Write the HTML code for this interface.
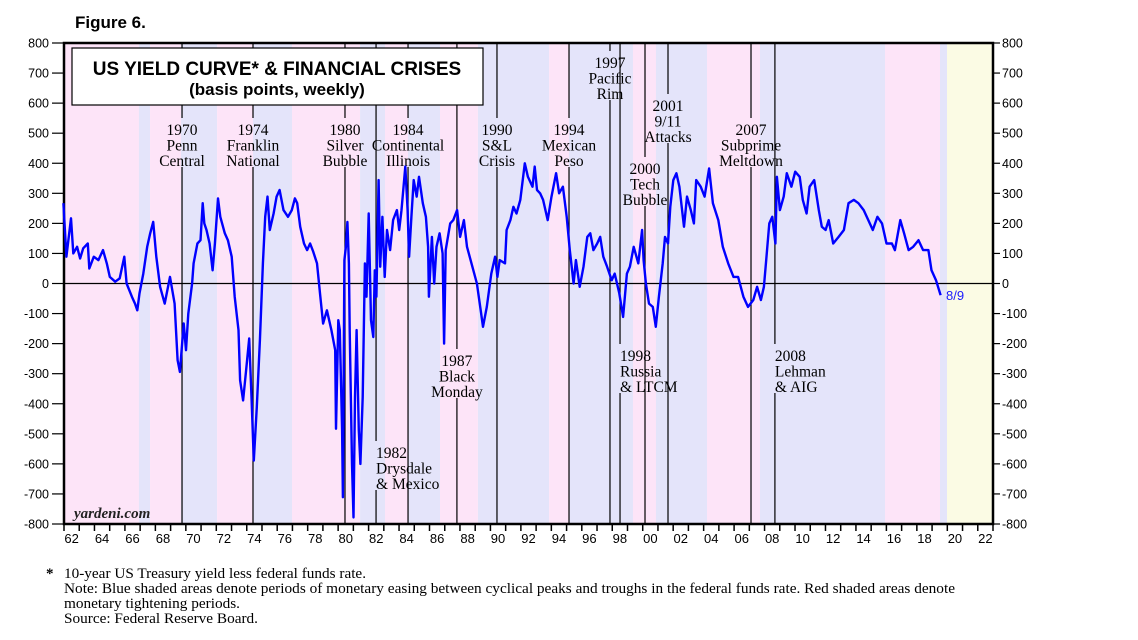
<!DOCTYPE html>
<html><head><meta charset="utf-8"><style>
html,body{margin:0;padding:0;background:#fff;}
body{width:1138px;height:640px;overflow:hidden;position:relative;font-family:"Liberation Sans",sans-serif;}
svg{position:absolute;left:0;top:0;}
.ser{font-family:"Liberation Serif",serif;}
</style></head><body>
<svg id="chart" width="1138" height="640" viewBox="0 0 1138 640" xmlns="http://www.w3.org/2000/svg">
<text x="75" y="28" font-size="17" font-weight="bold">Figure 6.</text>
<g id="bands"></g>
<g id="events"></g>
<g id="axes"></g>
<g id="series"></g>
<g>
<rect x="72" y="48" width="411" height="57" fill="#fff" stroke="#000" stroke-width="1.2"/>
<text x="277" y="75" font-size="19" font-weight="bold" text-anchor="middle">US YIELD CURVE* &amp; FINANCIAL CRISES</text>
<text x="277" y="95" font-size="17" font-weight="bold" text-anchor="middle">(basis points, weekly)</text>
</g>
<text class="ser" x="74" y="518" font-size="15" font-style="italic" font-weight="bold" fill="#222">yardeni.com</text>
<text x="946" y="300" font-size="13" fill="#1a1aff">8/9</text>
<g class="ser" font-size="15">
<text x="46" y="578" font-weight="bold">*</text>
<text x="64" y="578" textLength="302" lengthAdjust="spacingAndGlyphs">10-year US Treasury yield less federal funds rate.</text>
<text x="64" y="593" textLength="891" lengthAdjust="spacingAndGlyphs">Note: Blue shaded areas denote periods of monetary easing between cyclical peaks and troughs in the federal funds rate. Red shaded areas denote</text>
<text x="64" y="608" textLength="176" lengthAdjust="spacingAndGlyphs">monetary tightening periods.</text>
<text x="64" y="623" textLength="194" lengthAdjust="spacingAndGlyphs">Source: Federal Reserve Board.</text>
</g>
</svg>
<script>
const years=[1961.5,1961.7,1962.0,1962.15,1962.4,1962.6,1962.8,1963.1,1963.2,1963.5,1963.8,1964.1,1964.35,1964.55,1964.9,1965.2,1965.5,1965.65,1966.0,1966.2,1966.35,1966.5,1966.75,1967.0,1967.2,1967.4,1967.6,1967.85,1968.15,1968.5,1968.8,1969.0,1969.15,1969.4,1969.55,1969.7,1969.95,1970.05,1970.3,1970.5,1970.65,1970.75,1970.9,1971.1,1971.3,1971.45,1971.65,1971.8,1972.1,1972.3,1972.55,1972.75,1973.0,1973.1,1973.3,1973.5,1973.7,1973.85,1974.0,1974.2,1974.4,1974.6,1974.75,1974.9,1975.05,1975.3,1975.5,1975.7,1975.95,1976.25,1976.5,1976.7,1976.85,1977.05,1977.3,1977.5,1977.7,1977.9,1978.15,1978.35,1978.55,1978.8,1979.1,1979.35,1979.4,1979.55,1979.65,1979.8,1979.85,1979.95,1980.05,1980.15,1980.25,1980.3,1980.45,1980.55,1980.65,1980.75,1980.9,1981.0,1981.15,1981.3,1981.4,1981.55,1981.7,1981.85,1981.95,1982.05,1982.2,1982.3,1982.45,1982.6,1982.75,1982.95,1983.15,1983.4,1983.55,1983.7,1983.95,1984.1,1984.2,1984.35,1984.5,1984.7,1984.85,1985.1,1985.3,1985.45,1985.5,1985.7,1985.85,1986.0,1986.2,1986.4,1986.5,1986.6,1986.9,1987.1,1987.35,1987.55,1987.8,1988.0,1988.3,1988.65,1988.9,1989.05,1989.3,1989.6,1989.85,1990.0,1990.15,1990.5,1990.6,1990.85,1991.05,1991.25,1991.5,1991.8,1992.0,1992.3,1992.45,1992.6,1992.8,1993.0,1993.3,1993.55,1993.85,1994.05,1994.3,1994.55,1994.75,1995.0,1995.15,1995.4,1995.65,1995.9,1996.1,1996.3,1996.55,1996.75,1996.95,1997.2,1997.5,1997.7,1998.0,1998.25,1998.5,1998.7,1998.95,1999.25,1999.5,1999.6,1999.75,1999.95,2000.2,2000.4,2000.6,2000.85,2001.0,2001.2,2001.35,2001.55,2001.75,2001.95,2002.25,2002.45,2002.7,2002.9,2003.05,2003.35,2003.6,2003.9,2004.15,2004.5,2004.8,2005.15,2005.5,2005.8,2006.15,2006.45,2006.8,2007.05,2007.3,2007.5,2007.65,2007.85,2008.05,2008.25,2008.35,2008.55,2008.8,2009.0,2009.3,2009.55,2009.85,2010.05,2010.3,2010.5,2010.8,2011.1,2011.3,2011.55,2011.75,2012.05,2012.4,2012.75,2013.05,2013.4,2013.7,2014.05,2014.35,2014.65,2014.95,2015.25,2015.55,2015.9,2016.1,2016.45,2016.7,2017.0,2017.3,2017.65,2017.95,2018.3,2018.5,2018.8,2019.1];
const spread=[267,89,217,100,122,83,117,133,50,89,78,111,67,22,6,17,89,0,-44,-67,-89,-33,33,122,167,205,89,-11,-67,22,-67,-255,-294,-133,-222,-100,0,67,133,144,267,200,178,133,44,133,283,222,167,144,89,-44,-155,-322,-389,-289,-183,-378,-589,-411,-189,67,222,289,178,233,289,311,244,222,244,283,267,189,133,111,133,106,67,-33,-133,-89,-155,-222,-483,-122,-155,-489,-711,78,122,205,67,-155,-600,-778,-378,-155,-489,-600,-378,67,-44,233,-122,-178,44,-44,344,56,222,22,178,111,211,244,178,244,389,244,89,222,344,289,355,267,222,122,-44,155,0,122,167,100,-200,111,200,211,244,155,211,122,67,0,-89,-144,-78,33,89,22,78,67,178,211,255,233,278,400,355,322,389,311,300,278,211,289,367,300,322,222,111,0,78,-11,56,155,167,111,133,155,89,56,11,33,-33,-111,33,56,122,67,178,78,0,-67,-78,-144,-44,67,155,133,255,344,367,322,189,289,244,200,344,322,289,383,267,211,122,67,22,22,-44,-78,-55,-11,-55,-11,78,200,222,133,355,244,289,367,322,372,355,278,233,322,344,244,189,178,211,133,155,178,267,278,267,244,211,178,222,200,133,133,111,211,167,111,122,144,111,111,44,11,-39];
const bandStart=[1961.54,1966.46,1967.19,1969.22,1971.59,1973.95,1976.51,1980.98,1982.62,1984.13,1986.23,1988.72,1993.39,1994.70,1998.90,2000.41,2003.76,2007.24,2015.45,2019.06,2019.52];
const bandEnd=[1966.46,1967.19,1969.22,1971.59,1973.95,1976.51,1980.98,1982.62,1984.13,1986.23,1988.72,1993.39,1994.70,1998.90,2000.41,2003.76,2007.24,2015.45,2019.06,2019.52,2022.54];
const bandType=["tight","ease","tight","ease","tight","ease","tight","ease","tight","ease","tight","ease","tight","ease","tight","ease","tight","ease","tight","ease","future"];
const eventYears=[1969.29,1973.95,1979.99,1982.03,1984.13,1987.34,1989.97,1994.70,1997.39,1998.05,1999.69,2001.20,2006.65,2008.22];
const eventLabels=[["1970","Penn","Central"],["1974","Franklin","National"],["1980","Silver","Bubble"],["1982","Drysdale","& Mexico"],["1984","Continental","Illinois"],["1987","Black","Monday"],["1990","S&L","Crisis"],["1994","Mexican","Peso"],["1997","Pacific","Rim"],["1998","Russia","& LTCM"],["2000","Tech","Bubble"],["2001","9/11","Attacks"],["2007","Subprime","Meltdown"],["2008","Lehman","& AIG"]];
const eventLabelY=[130,130,130,453,130,361,130,130,63,356,169,106,130,356];
const eventAlign=["middle","middle","middle","start","middle","middle","middle","middle","middle","start","middle","middle","middle","start"];
const yTicks=[800,700,600,500,400,300,200,100,0,-100,-200,-300,-400,-500,-600,-700,-800];
const xTickLabels=["62","64","66","68","70","72","74","76","78","80","82","84","86","88","90","92","94","96","98","00","02","04","06","08","10","12","14","16","18","20","22"];

const NS="http://www.w3.org/2000/svg";
const L=64,R=993,T=43,B=524;
const X0=1961.54,X1=2022.54,Y0=-800,Y1=800;
const xs=y=>L+(y-X0)/(X1-X0)*(R-L);
const ys=v=>B-(v-Y0)/(Y1-Y0)*(B-T);
function mk(tag,attrs,parent){const e=document.createElementNS(NS,tag);for(const k in attrs)e.setAttribute(k,attrs[k]);parent.appendChild(e);return e;}
const gB=document.getElementById('bands'),gE=document.getElementById('events'),gA=document.getElementById('axes'),gS=document.getElementById('series');
const colors={tight:"#fde4f8",ease:"#e4e4fa",future:"#fbfbe4"};
bandStart.forEach((s,i)=>{
 const r=mk('rect',{x:xs(s),y:T,width:xs(bandEnd[i])-xs(s),height:B-T,fill:colors[bandType[i]]},gB);
 
 
});
const z=mk('line',{x1:L,x2:R,y1:ys(0),y2:ys(0),stroke:"#000","stroke-width":1.2},gA);


const LH=15.5;
eventYears.forEach((ey,i)=>{
 const x=xs(ey),ly=eventLabelY[i];
 const top=ly-12, bot=ly+2*LH+6;
 mk('line',{x1:x,x2:x,y1:T,y2:top,stroke:"#000","stroke-width":1.2},gE);
 mk('line',{x1:x,x2:x,y1:bot,y2:B,stroke:"#000","stroke-width":1.2},gE);
 const t=mk('text',{x:x,y:ly+5,"font-size":15.5,"text-anchor":eventAlign[i],class:"ser"},gE);
 
 
 eventLabels[i].forEach((s,j)=>{const ts=mk('tspan',{x:x,dy:j?LH:0},t);ts.textContent=s;});
});
let d="";
years.forEach((yr,i)=>{d+=(i?"L":"M")+xs(yr).toFixed(1)+","+ys(spread[i]).toFixed(1);});
const p=mk('path',{d:d,fill:"none",stroke:"#0000ff","stroke-width":2.4,"stroke-linejoin":"round"},gS);


mk('rect',{x:L,y:T,width:R-L,height:B-T,fill:"none",stroke:"#000","stroke-width":2.5},gA);
yTicks.forEach(v=>{
 const y=ys(v);
 mk('line',{x1:L-12,x2:L,y1:y,y2:y,stroke:"#000","stroke-width":1.2},gA);
 mk('line',{x1:R,x2:R+7,y1:y,y2:y,stroke:"#000","stroke-width":1.2},gA);
 const a=mk('text',{x:L-15,y:y+4.5,"font-size":12.5,"text-anchor":"end"},gA);a.textContent=v;
 
 
 const b=mk('text',{x:R+9,y:y+4.5,"font-size":12.5},gA);b.textContent=v;
 
 
});
for(let k=0;k<=61;k++){const x=xs(1961.54+k);mk('line',{x1:x,x2:x,y1:B,y2:B+7,stroke:"#000","stroke-width":1.5},gA);}
xTickLabels.forEach((s,i)=>{
 const t=mk('text',{x:xs(1962.04+2*i),y:B+19,"font-size":13,"text-anchor":"middle"},gA);t.textContent=s;
 
 
});
</script>
</body></html>
